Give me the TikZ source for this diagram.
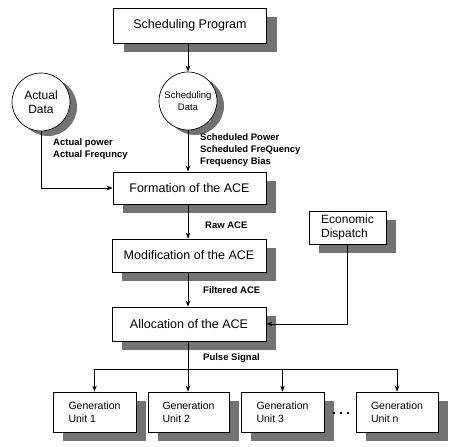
\documentclass[tikz,border=0pt]{standalone}
\usepackage{fontspec}
\setmainfont{Liberation Sans}
\usetikzlibrary{shadows,arrows.meta}
\begin{document}
\begin{tikzpicture}[x=1pt,y=-1pt,
  shad/.style={drop shadow={shadow xshift=10pt,shadow yshift=-9pt,fill=black!55,opacity=1}},
  cshad/.style={drop shadow={shadow xshift=7pt,shadow yshift=-5pt,fill=black!55,opacity=1}},
  box/.style={draw,fill=white,line width=0.7pt,inner sep=0pt,shad},
  bigtxt/.style={font=\fontsize{12.5}{14}\selectfont},
  unit/.style={box,minimum height=40pt,align=left,font=\fontsize{10.5}{13}\selectfont},
  circ/.style={draw,fill=white,circle,line width=0.7pt,minimum size=58pt,inner sep=0pt,cshad,align=center},
  lab/.style={anchor=west,align=left,inner sep=0pt,font=\bfseries\fontsize{9.5}{12}\selectfont},
  con/.style={line width=0.8pt},
  arr/.style={con,-{Stealth[length=6pt,width=4.5pt]}}
]
\useasboundingbox (0,0) rectangle (451,447);

\node[box,bigtxt,minimum width=153pt,minimum height=35pt] (sp) at (190,25.5) {Scheduling Program};
\node[circ,font=\fontsize{12}{14}\selectfont] (ad) at (41,102) {Actual\\Data};
\node[circ,font=\fontsize{9.5}{12.5}\selectfont] (sd) at (188,101) {Scheduling\\Data};
\node[box,bigtxt,minimum width=153pt,minimum height=32pt] (fo) at (189.5,188) {Formation of the ACE};
\node[box,bigtxt,minimum width=154pt,minimum height=33pt] (mo) at (189,255.5) {Modification of the ACE};
\node[box,bigtxt,minimum width=154pt,minimum height=34pt] (al) at (189,324) {Allocation of the ACE};
\node[box,align=left,font=\fontsize{12}{14.5}\selectfont,minimum width=77pt,minimum height=33pt] (ed) at (347.5,227.5) {Economic\\Dispatch};

\node[unit,minimum width=83pt] (u1) at (94.5,412) {Generation\\ Unit 1};
\node[unit,minimum width=81pt] (u2) at (188.5,412) {Generation\\ Unit 2};
\node[unit,minimum width=83pt] (u3) at (282.5,412) {Generation\\ Unit 3};
\node[unit,minimum width=82pt] (un) at (397,412) {Generation\\ Unit n};

\node[lab] (la) at (53,149) {Actual power\\Actual Frequncy};
\node[lab] (ls) at (200,150) {Scheduled Power\\Scheduled FreQuency\\Frequency Bias};
\node[lab] (lr) at (205,225) {Raw ACE};
\node[lab] (lf) at (203,290) {Filtered ACE};
\node[lab] (lp) at (203,358) {Pulse Signal};

\draw[arr] (sp.south -| sd.north) -- (sd.north);
\draw[arr] (ad.south) -- (ad.south |- fo.west) -- (fo.west);
\draw[arr] (sd.south) -- (sd.south |- fo.north);
\draw[arr] (fo.south -| sd.south) -- (mo.north -| sd.south);
\draw[arr] (mo.south -| sd.south) -- (al.north -| sd.south);
\draw[arr] (ed.south) -- (ed.south |- al.east) -- (al.east);

\coordinate (bus) at (188,369);
\draw[arr] (al.south -| sd.south) -- (u2.north -| sd.south);
\draw[con] (u1.north |- bus) -- (un.north |- bus);
\draw[arr] (u1.north |- bus) -- (u1.north);
\draw[arr] (u3.north |- bus) -- (u3.north);
\draw[arr] (un.north |- bus) -- (un.north);

\fill (334,413) circle (1.3pt) (341,413) circle (1.3pt) (348,413) circle (1.3pt);
\end{tikzpicture}
\end{document}
